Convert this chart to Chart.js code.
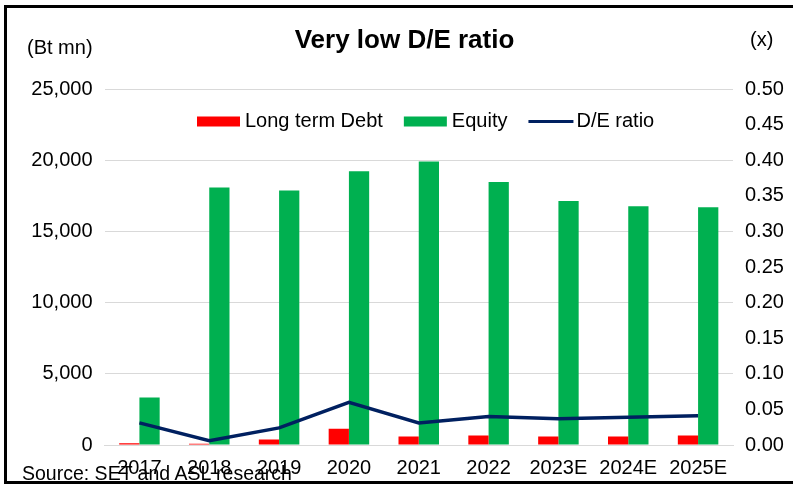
<!DOCTYPE html>
<html lang="en">
<head>
<meta charset="UTF-8">
<title>Very low D/E ratio</title>
<script src="https://cdn.jsdelivr.net/npm/chart.js"></script>
<style>
  html, body { margin: 0; padding: 0; background: #fff; overflow: hidden; }
  body { width: 793px; height: 485px; position: relative; font-family: "Liberation Sans", Arial, sans-serif; color: #000; }
  #frame { position: absolute; left: 4px; top: 5px; width: 820px; height: 473px; border: 3px solid #000; border-right: none; }
  #chart { position: absolute; left: 0; top: 0; }
  .lbl { position: absolute; white-space: nowrap; line-height: 1; }
  #title { left: 0; width: 809px; top: 26px; text-align: center; font-weight: bold; font-size: 26px; }
  #unitL { left: 27px; top: 37px; font-size: 20px; }
  #unitR { left: 750px; top: 29px; font-size: 20px; }
  #source { left: 22px; top: 464px; font-size: 19.5px; }
</style>
</head>
<body>
  <div id="frame"></div>
  <canvas id="chart" width="793" height="485"></canvas>
  <div class="lbl" id="title">Very low D/E ratio</div>
  <div class="lbl" id="unitL">(Bt mn)</div>
  <div class="lbl" id="unitR">(x)</div>
  <div class="lbl" id="source">Source: SET and ASL research</div>
<script>
// data
const years = ['2017', '2018', '2019', '2020', '2021', '2022', '2023E', '2024E', '2025E'];
const debt = [120, 90, 390, 1140, 600, 670, 600, 600, 670];
const equity = [3330, 18090, 17880, 19220, 19900, 18470, 17140, 16760, 16690];
const deRatio = [0.031, 0.006, 0.024, 0.060, 0.031, 0.040, 0.037, 0.039, 0.041];

// axis ranges / tick steps
const leftMax = 25000, leftStep = 5000;
const rightMax = 0.5, rightStep = 0.05;

const FONT = '"Liberation Sans", Arial, sans-serif';
Chart.defaults.font.family = FONT;
Chart.defaults.font.size = 20;
Chart.defaults.color = '#000';

// legend sits inside the plot area, drawn by hand
const insideLegend = {
    id: 'insideLegend',
    afterDraw(chart) {
        const ctx = chart.ctx;
        ctx.save();
        ctx.font = '20px ' + FONT;
        ctx.textBaseline = 'middle';
        ctx.textAlign = 'left';
        let x = 197;
        const y = 121.5;
        chart.data.datasets.forEach(ds => {
            if (ds.type === 'line') {
                ctx.strokeStyle = ds.borderColor;
                ctx.lineWidth = 3;
                ctx.beginPath();
                ctx.moveTo(x, y);
                ctx.lineTo(x + 45, y);
                ctx.stroke();
                x += 48;
            } else {
                ctx.fillStyle = ds.backgroundColor;
                ctx.fillRect(x, y - 5, 43, 10);
                x += 48;
            }
            ctx.fillStyle = '#000';
            ctx.fillText(ds.label, x, y);
            x += ctx.measureText(ds.label).width + 21;
        });
        ctx.restore();
    }
};

const ctx = document.getElementById('chart').getContext('2d');
new Chart(ctx, {
    data: {
        labels: years,
        datasets: [
            {
                type: 'bar',
                label: 'Long term Debt',
                data: debt,
                backgroundColor: '#FF0000',
                yAxisID: 'y',
                order: 2,
                categoryPercentage: 0.58,
                barPercentage: 1
            },
            {
                type: 'bar',
                label: 'Equity',
                data: equity,
                backgroundColor: '#00B050',
                yAxisID: 'y',
                order: 2,
                categoryPercentage: 0.58,
                barPercentage: 1
            },
            {
                type: 'line',
                label: 'D/E ratio',
                data: deRatio,
                borderColor: '#002060',
                backgroundColor: '#002060',
                borderWidth: 3.5,
                pointRadius: 0,
                tension: 0,
                yAxisID: 'y1',
                order: 0
            }
        ]
    },
    options: {
        responsive: false,
        animation: false,
        layout: { padding: { top: 89, left: 0, right: 0, bottom: 0 } },
        plugins: {
            legend: { display: false },
            title: { display: false },
            tooltip: { enabled: false }
        },
        scales: {
            x: {
                grid: { display: false, drawTicks: false },
                border: { display: true, color: '#d9d9d9', width: 1 },
                ticks: { padding: 11, font: { size: 20 }, maxRotation: 0 },
                afterFit(scale) { scale.height = 40; }
            },
            y: {
                position: 'left',
                min: 0,
                max: leftMax,
                ticks: {
                    stepSize: leftStep,
                    padding: 12,
                    font: { size: 20 },
                    callback: v => v.toLocaleString('en-US')
                },
                grid: { color: '#d9d9d9', drawTicks: false },
                border: { display: false },
                afterFit(scale) { scale.width = 104.5; }
            },
            y1: {
                position: 'right',
                min: 0,
                max: rightMax,
                ticks: {
                    stepSize: rightStep,
                    padding: 12,
                    font: { size: 20 },
                    callback: v => v.toFixed(2)
                },
                grid: { display: false, drawTicks: false },
                border: { display: false },
                afterFit(scale) { scale.width = 60; }
            }
        }
    },
    plugins: [insideLegend]
});
</script>
</body>
</html>
